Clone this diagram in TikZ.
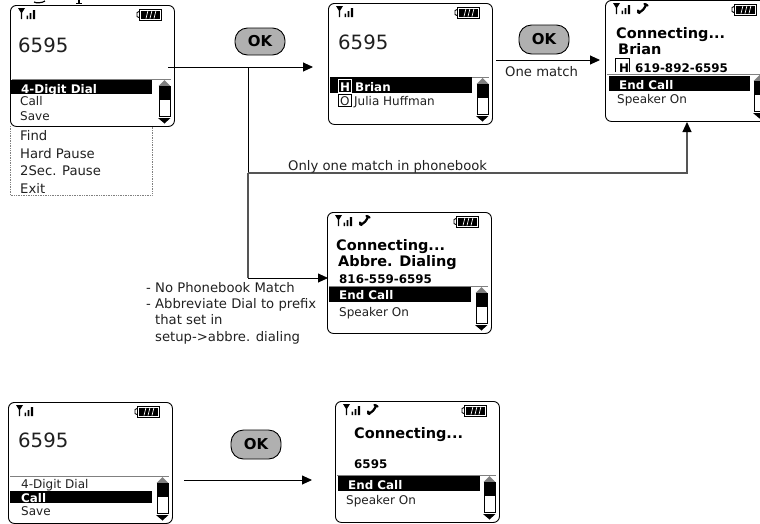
\documentclass[tikz,border=0pt]{standalone}
\usepackage{fontspec}
\setmainfont{DejaVu Sans}
\usetikzlibrary{arrows.meta}
\definecolor{okgray}{HTML}{B0B0B0}
\definecolor{rulegray}{HTML}{808080}
\definecolor{wire}{HTML}{555555}
\definecolor{txt}{HTML}{202020}
\tikzset{
  phonebody/.style={draw=black,line width=0.9pt,rounded corners=6pt,fill=white,inner sep=0pt,anchor=north west,minimum width=164pt,minimum height=121pt},
  okbtn/.style={draw=black,line width=0.9pt,fill=okgray,rounded corners=12.5pt,minimum width=50pt,minimum height=27pt,inner sep=0pt,font=\bfseries\fontsize{15}{15}\selectfont},
  lbl/.style={anchor=base west,inner sep=0pt,text=txt,font=\fontsize{13.2}{14}\selectfont},
  lbls/.style={anchor=base west,inner sep=0pt,text=txt,font=\fontsize{12}{13}\selectfont},
  lblb/.style={anchor=base west,inner sep=0pt,text=black,font=\bfseries\fontsize{11.9}{13}\selectfont},
  head/.style={anchor=base west,inner sep=0pt,text=black,font=\bfseries\fontsize{14.5}{15}\selectfont},
  big/.style={anchor=base west,inner sep=0pt,text=txt,font=\fontsize{19.7}{20}\selectfont},
  conn/.style={draw=black,line width=0.9pt,-{Triangle[length=10pt,width=9pt]}},
  plainconn/.style={draw=black,line width=0.9pt},
  graywire/.style={draw=wire,line width=1.1pt,-{Triangle[length=10pt,width=9pt,color=black]}},
  graywireplain/.style={draw=wire,line width=1.1pt},
}
% #1 name, #2 x, #3 y
\newcommand{\phonescreen}[3]{%
  \node[phonebody] (#1) at (#2,#3) {};
  \begin{scope}[shift={(#2,#3)}]
    % signal
    \fill (8,3) -- (15,3) -- (12.2,7.5) -- (12.2,14) -- (10.8,14) -- (10.8,7.5) -- cycle;
    \fill (16.5,10.5) rectangle (18.2,14) (19.6,8) rectangle (21.3,14) (22.8,5) rectangle (25,14);
    % battery
    \draw[line width=0.9pt,fill=white] (129,4) rectangle (151,15);
    \draw[line width=0.9pt] (129,6.5) -- (127,7.5) -- (127,11.5) -- (129,12.5);
    \fill (131,5.5) rectangle (149.5,13.5);
    \foreach \k in {136,140,144}{\draw[white,line width=0.7pt] (\k,13.5) -- (\k+2,5.5);}
    % separator
    \draw[rulegray,line width=1pt] (2,74) -- (161,74);
    % scrollbar
    \fill[rulegray] (148.5,81) -- (154.5,75) -- (160.5,81) -- cycle;
    \draw[line width=0.9pt,fill=white] (149,81) rectangle (160,111);
    \fill (149,81) rectangle (160,95);
    \fill (148,113) -- (160.5,113) -- (154.5,118.5) -- cycle;
  \end{scope}}
\newcommand{\handset}[2]{%
  \begin{scope}[shift={(#1,#2)}]
    \draw[line width=2.2pt,line cap=round] (33,12.5) .. controls (37,12) and (40,8) .. (41,4.5);
    \draw[line width=2.4pt,line cap=round] (39.5,4) -- (42.5,5.5);
    \draw[line width=2.4pt,line cap=round] (33,10.5) -- (34.5,13);
  \end{scope}}
\begin{document}
\begin{tikzpicture}[x=1pt,y=-1pt]
\useasboundingbox (0,0) rectangle (760,523);
\clip (0,0) rectangle (760,523);
% remains of the cut-off heading
\draw[line width=1.2pt] (34,2) .. controls (36,3.2) and (42,3.2) .. (45,1);
\draw[line width=1.6pt] (79,0) -- (79,3);
\draw[line width=1pt] (76,3) -- (82,3);

% Dotted menu
\draw[rulegray,densely dotted,line width=0.7pt] (10,126) -- (10,195) -- (152,195) -- (152,126);

% Phones
\phonescreen{pa}{10}{5}
\phonescreen{pb}{328}{3}
\phonescreen{pc}{605}{0}
\handset{605}{0}
\phonescreen{pd}{327}{212}
\handset{327}{212}
\phonescreen{pe}{8}{402}
\phonescreen{pf}{335}{401}
\handset{335}{401}

% Phone A
\node[big] (a6595) at (18,52) {6595};
\fill (10,80) rectangle (152,94);
\node[lblb,text=white] (a1) at (21,93) {4-Digit Dial};
\node[lbls] (a2) at (20,105.5) {Call};
\node[lbls] (a3) at (20,120) {Save};
\node[lbl] (a4) at (20,140) {Find};
\node[lbl] (a5) at (20,158) {Hard Pause};
\node[lbl] (a6) at (20,175) {2Sec. Pause};
\node[lbl] (a7) at (20,193) {Exit};

% Phone B
\node[big] (b6595) at (338,49) {6595};
\fill (330,77) rectangle (472,93);
\draw[white,line width=0.7pt] (338,79) rectangle (351,92);
\node[lblb,text=white] (b1) at (340,91) {H};
\node[lblb,text=white] (b2) at (355,91) {Brian};
\draw[line width=0.7pt] (338,94) rectangle (351,106);
\node[lbls] (b3) at (340,105) {O};
\node[lbls] (b4) at (354,105) {Julia Huffman};

% Phone C
\node[head] (c1) at (616,38) {Connecting...};
\node[head] (c2) at (618,54) {Brian};
\draw[line width=0.7pt] (615,72) -- (615,58) -- (629,58) -- (629,72);
\node[lblb] (c3) at (619,72) {H};
\node[lblb] (c4) at (635,72) {619-892-6595};
\fill (609,76) rectangle (750,91);
\node[lblb,text=white] (c5) at (619,89) {End Call};
\node[lbls] (c6) at (617,103) {Speaker On};

% Phone D
\node[head] (d1) at (336,250) {Connecting...};
\node[head] (d2) at (338,266) {Abbre. Dialing};
\node[lblb] (d3) at (339,283) {816-559-6595};
\fill (329,287) rectangle (471,302);
\node[lblb,text=white] (d4) at (339,299) {End Call};
\node[lbls] (d5) at (339,316) {Speaker On};

% Phone E
\node[big] (e6595) at (18,447) {6595};
\node[lbls] (e1) at (21,488) {4-Digit Dial};
\fill (10,491) rectangle (152,503);
\node[lblb,text=white] (e2) at (21,502) {Call};
\node[lbls] (e3) at (21,515) {Save};

% Phone F
\node[head] (f1) at (354,438) {Connecting...};
\node[lblb] (f2) at (354,468) {6595};
\fill (338,476) rectangle (480,491);
\node[lblb,text=white] (f3) at (348,489) {End Call};
\node[lbls] (f4) at (346,504) {Speaker On};

% OK buttons
\node[okbtn] (ok1) at (260,41.5) {OK};
\node[okbtn,minimum height=29pt] (ok2) at (544,39.5) {OK};
\node[okbtn,minimum height=29pt] (ok3) at (256,444.5) {OK};

% Free connector ends
\coordinate (sa) at (168,67);
\coordinate (branch) at (248,67);
\coordinate (endb) at (313,67);
\coordinate (sb) at (496,60);
\coordinate (endc) at (600,60);
\coordinate (turn1) at (248,173);
\coordinate (turn2) at (687,173);
\coordinate (endc2) at (687,122);
\coordinate (turn3) at (248,278);
\coordinate (endd) at (328,278);
\coordinate (se) at (184,480);
\coordinate (endf) at (312,480);

% Connectors
\draw[conn] (sa) -- (endb);
\draw[conn] (sb) -- (endc);
\draw[plainconn] (branch) -- (turn1);
\draw[graywire] (turn1) -- (turn2) -- (endc2);
\draw[graywireplain] (turn1) -- (turn3);
\draw[conn] (turn3) -- (endd);
\draw[conn] (se) -- (endf);

% Labels
\node[lbl] (lm) at (505,76) {One match};
\node[lbl] (lo) at (288,170) {Only one match in phonebook};
\node[lbl] (l1) at (146,292) {- No Phonebook Match};
\node[lbl] (l2) at (146,308) {- Abbreviate Dial to prefix};
\node[lbl] (l3) at (155,324) {that set in};
\node[lbl] (l4) at (155,341) {setup->abbre. dialing};
\end{tikzpicture}
\end{document}
